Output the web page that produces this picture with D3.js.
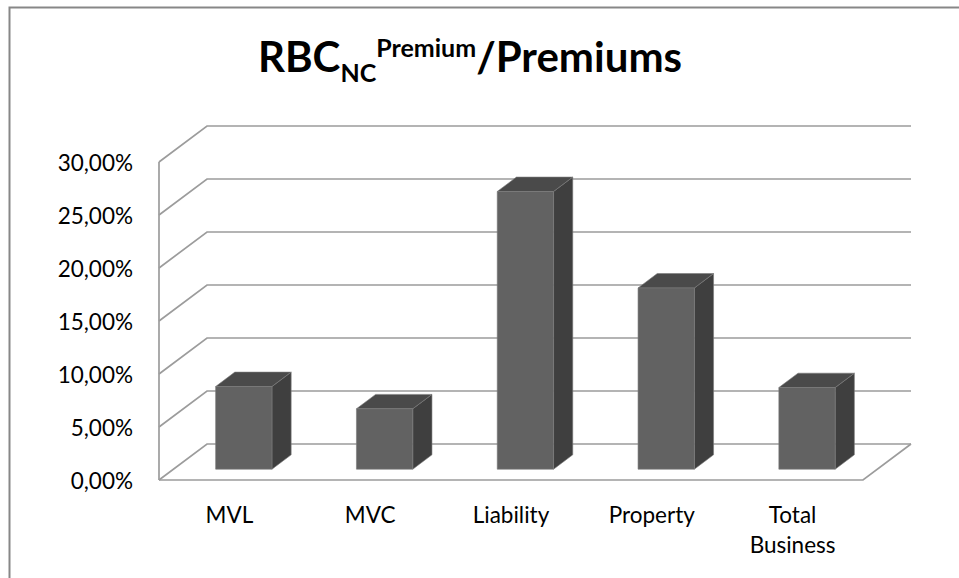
<!DOCTYPE html>
<html><head><meta charset="utf-8">
<script src="https://cdn.jsdelivr.net/npm/d3@7"></script>
<style>html,body{margin:0;padding:0;background:#fff;}svg{display:block;}</style>
</head><body>
<svg id="chart" width="959" height="578"></svg>
<script>
const categories = ["MVL", "MVC", "Liability", "Property", "Total Business"];
const values = [0.078, 0.057, 0.262, 0.171, 0.077];
const yTicks = [0, 0.05, 0.10, 0.15, 0.20, 0.25, 0.30];

(function () {
const svg = d3.select("#chart");
const W = 959, H = 578;
const FONT = "Lato, 'Open Sans', sans-serif";
const pLeft = 159, pRight = 863, pBottom = 480, pTop = 162;
const DX = 48, DY = 36;         // depth offset of back plane
const d0 = 0.3, d1 = 0.7;       // bar depth range

const x = d3.scaleBand().domain(categories).range([pLeft, pRight]).paddingInner(0.6).paddingOuter(0.3);
const y = d3.scaleLinear().domain([0, 0.30]).range([pBottom, pTop]);
const P = (px, py, d) => [px + d * DX, py - d * DY];
const line = d3.line();

// outer chart border
svg.append("rect").attr("x", 9.5).attr("y", 7.5).attr("width", W + 20).attr("height", H + 20)
  .attr("fill", "#fff").attr("stroke", "#878787").attr("stroke-width", 2);

const grid = svg.append("g").attr("fill", "none").attr("stroke", "#9c9c9c").attr("stroke-width", 1.7);
grid.append("path").attr("d", line([P(pLeft, y(0), 0), P(pLeft, y(0.30), 0)]));
yTicks.forEach(t => {
  grid.append("path").attr("d", line([P(pLeft, y(t), 0), P(pLeft, y(t), 1), P(pRight, y(t), 1)]));
});
grid.append("path").attr("d", line([P(pLeft, y(0), 0), P(pRight, y(0), 0), P(pRight, y(0), 1)]));

// y axis labels
const fmt = d3.formatLocale({decimal: ",", thousands: ".", grouping: [3], currency: ["", "€"]}).format(".2%");
const yAxis = d3.axisLeft(y).tickValues(yTicks).tickFormat(fmt).tickSize(0).tickPadding(26);
const ya = svg.append("g").attr("transform", `translate(${pLeft},1)`).call(yAxis);
ya.select(".domain").remove();
ya.selectAll("text").attr("font-family", FONT).attr("font-size", 22.5).attr("fill", "#000");

// bars
const bars = svg.append("g");
categories.forEach((c, i) => {
  const x0 = x(c), x1 = x(c) + x.bandwidth();
  const yt = y(values[i]), yb = y(0);
  const g = bars.append("g").attr("stroke", "#7a7a7a").attr("stroke-width", 0.6).attr("stroke-linejoin", "round");
  g.append("path").attr("fill", "#3f3f3f")
    .attr("d", line([P(x1, yt, d0), P(x1, yt, d1), P(x1, yb, d1), P(x1, yb, d0)]) + "Z");
  g.append("path").attr("fill", "#4a4a4a")
    .attr("d", line([P(x0, yt, d0), P(x1, yt, d0), P(x1, yt, d1), P(x0, yt, d1)]) + "Z");
  g.append("path").attr("fill", "#626262")
    .attr("d", line([P(x0, yt, d0), P(x1, yt, d0), P(x1, yb, d0), P(x0, yb, d0)]) + "Z");
});

// category labels
const xa = svg.append("g");
categories.forEach(c => {
  const cx = x(c) + x.bandwidth() / 2;
  const words = c.split(" ");
  const t = xa.append("text").attr("x", cx).attr("y", 523).attr("text-anchor", "middle")
    .attr("font-family", FONT).attr("font-size", 22.5).attr("fill", "#000");
  words.forEach((w, k) => t.append("tspan").attr("x", cx).attr("dy", k === 0 ? 0 : 30).text(w));
});

// title
const title = svg.append("text").attr("x", 470).attr("y", 72).attr("text-anchor", "middle")
  .attr("font-family", FONT).attr("font-weight", "bold").attr("font-size", 42).attr("fill", "#000");
title.append("tspan").text("RBC");
title.append("tspan").attr("font-size", 25).attr("dy", 10).text("NC");
title.append("tspan").attr("font-size", 25).attr("dy", -25).text("Premium");
title.append("tspan").attr("dy", 15).text("/Premiums");
})();
</script>
</body></html>
